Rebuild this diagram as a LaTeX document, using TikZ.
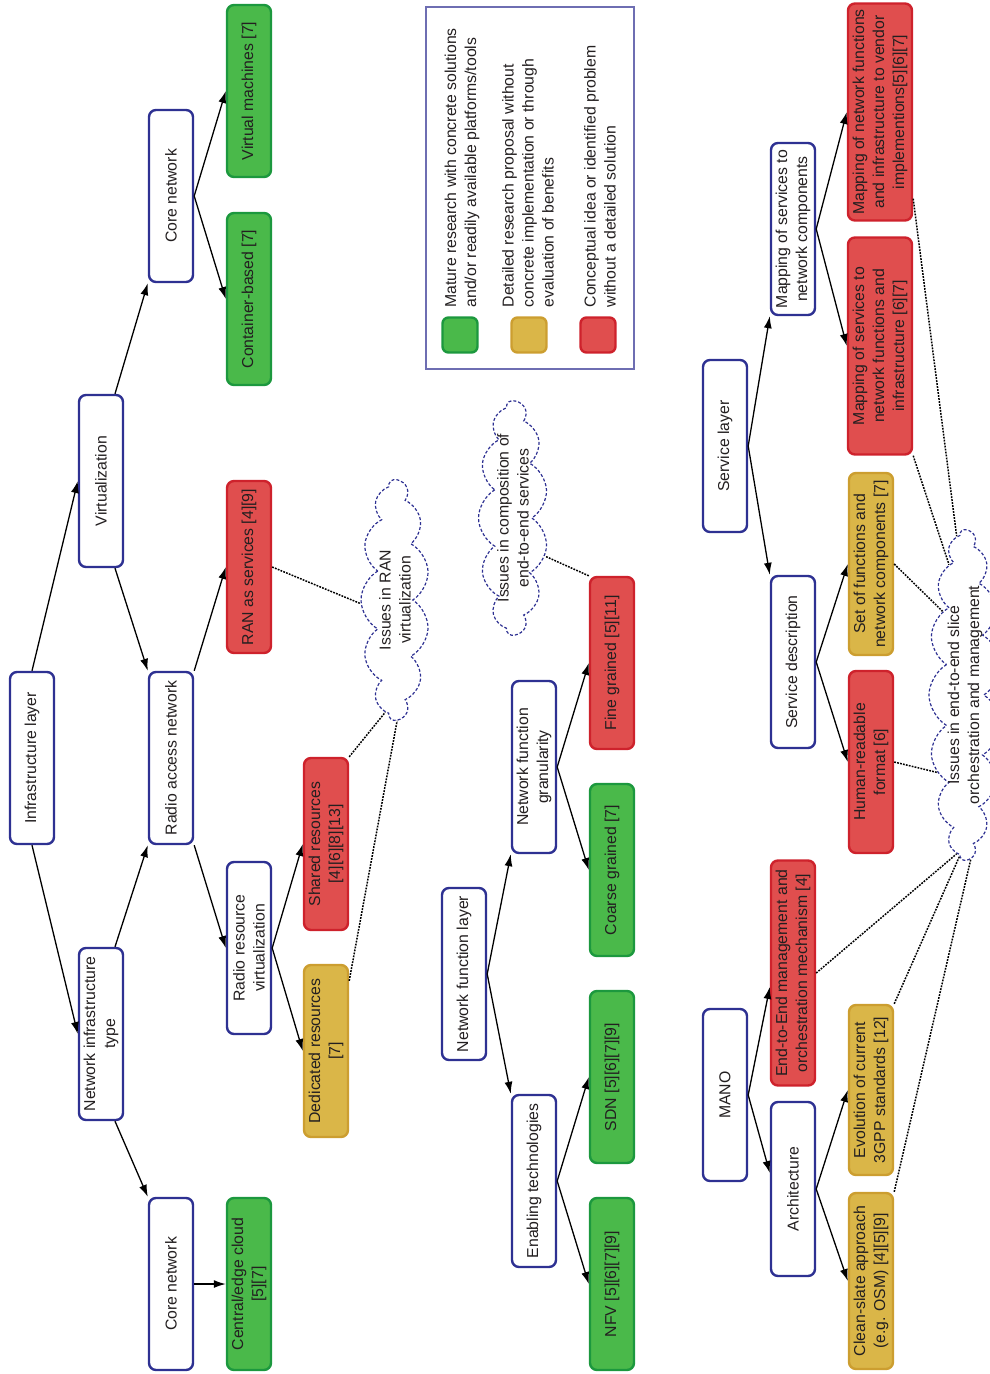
\documentclass[tikz,border=0pt]{standalone}
\usepackage{fontspec}
\setmainfont{Liberation Sans}
\usetikzlibrary{arrows.meta, shapes.symbols}

\definecolor{navy}{RGB}{46,49,146}
\definecolor{ink}{RGB}{35,31,32}
\definecolor{gfill}{RGB}{74,185,74}
\definecolor{gdraw}{RGB}{28,152,62}
\definecolor{yfill}{RGB}{218,182,72}
\definecolor{ydraw}{RGB}{204,158,48}
\definecolor{rfill}{RGB}{224,78,78}
\definecolor{rdraw}{RGB}{206,34,44}
\definecolor{lgframe}{RGB}{110,110,178}

\begin{document}
\begin{tikzpicture}[
    x=1pt, y=-1pt,
    >={Latex[length=12pt,width=8pt]},
    line width=1.3pt,
    every node/.style={font=\fontsize{15.8}{20}\selectfont, text=ink},
    ]

    \tikzstyle{box}=[
    rectangle,
    rounded corners=7pt,
    rotate=90,
    align=center,
    inner sep=2pt,
    line width=2.4pt,
    minimum width=172pt,
    minimum height=44pt,
    ]
    \tikzstyle{topic}=[box, draw=navy, fill=white]
    \tikzstyle{mature}=[box, draw=gdraw, fill=gfill]
    \tikzstyle{detailed}=[box, draw=ydraw, fill=yfill]
    \tikzstyle{concept}=[box, draw=rdraw, fill=rfill]
    \tikzstyle{swatch}=[minimum width=35pt, minimum height=35pt, rounded corners=6pt]
    \tikzstyle{issue}=[
    cloud,
    cloud puffs=13,
    cloud puff arc=120,
    cloud ignores aspect,
    draw=navy,
    densely dashed,
    line width=1.2pt,
    rotate=90,
    inner sep=0pt,
    ]
    \tikzstyle{issuetext}=[rotate=90, align=center, inner sep=0pt]
    \tikzstyle{link}=[dash pattern=on 1.8pt off 1.2pt, line width=1.5pt]

    \useasboundingbox (0,0) rectangle (990,1374);

    % infrastructure layer
    \node[topic] (il) at (32,758) {Infrastructure layer};
    \node[topic] (nit) at (101,1034) {Network infrastructure\\type};
    \node[topic] (virt) at (101,481) {Virtualization};
    \node[topic] (core1) at (171,196) {Core network};
    \node[topic] (ran) at (171,758) {Radio access network};
    \node[topic] (core2) at (171,1284) {Core network};
    \node[topic] (rrv) at (249,948) {Radio resource\\virtualization};
    \node[mature] (vm) at (249,91) {Virtual machines [7]};
    \node[mature] (cont) at (249,299) {Container-based [7]};
    \node[concept] (raas) at (249,567) {RAN as services [4][9]};
    \node[mature] (cloud) at (249,1284) {Central/edge cloud\\{[5][7]}};
    \node[concept] (shared) at (326,844) {Shared resources\\{[4][6][8][13]}};
    \node[detailed] (ded) at (326,1051) {Dedicated resources\\{[7]}};
    \node[issue, minimum width=240pt, minimum height=68pt,
          label={[issuetext]center:Issues in RAN\\virtualization}] (i1) at (395,600) {};

    % network function layer
    \node[topic] (nfl) at (464,974) {Network function layer};
    \node[topic] (nfg) at (534,767) {Network function\\granularity};
    \node[topic] (et) at (534,1181) {Enabling technologies};
    \node[issue, minimum width=234pt, minimum height=69pt,
          label={[issuetext]center:Issues in composition of\\end-to-end services}] (i2) at (513,518) {};
    \node[concept] (fine) at (612,663) {Fine grained [5][11]};
    \node[mature] (coarse) at (612,870) {Coarse grained [7]};
    \node[mature] (sdn) at (612,1077) {SDN [5][6][7][9]};
    \node[mature] (nfv) at (612,1284) {NFV [5][6][7][9]};

    % legend
    \draw[lgframe, line width=1.3pt] (426,7) rectangle (634,369);
    \node[mature, swatch] (lg1) at (460,335) {};
    \node[detailed, swatch] (lg2) at (529,335) {};
    \node[concept, swatch] (lg3) at (598,335) {};
    \node[rotate=90, anchor=west, align=left, inner sep=0pt] (lt1) at (462,308) {Mature research with concrete solutions\\and/or readily available platforms/tools};
    \node[rotate=90, anchor=west, align=left, inner sep=0pt] (lt2) at (528,308) {Detailed research proposal without\\concrete implementation or through\\evaluation of benefits};
    \node[rotate=90, anchor=west, align=left, inner sep=0pt] (lt3) at (600,308) {Conceptual idea or identified problem\\without a detailed solution};

    % service layer and MANO
    \node[topic] (sl) at (725,446) {Service layer};
    \node[topic] (mano) at (725,1095) {MANO};
    \node[topic] (msnc) at (793,229) {Mapping of services to\\network components};
    \node[topic] (sd) at (793,662) {Service description};
    \node[concept, minimum width=225pt] (e2e) at (793,973) {End-to-End management and\\orchestration mechanism [4]};
    \node[topic, minimum width=174pt] (arch) at (793,1189) {Architecture};
    \node[concept, minimum width=217pt, minimum height=64pt] (mapnf) at (880,112) {Mapping of network functions\\and infrastructure to vendor\\implementions[5][6][7]};
    \node[concept, minimum width=217pt, minimum height=64pt] (mapsvc) at (880,346) {Mapping of services to\\network functions and\\infrastructure [6][7]};
    \node[detailed, minimum width=182pt] (setf) at (871,564) {Set of functions and\\network components [7]};
    \node[concept, minimum width=182pt] (human) at (871,762) {Human-readable\\format [6]};
    \node[detailed, minimum width=170pt] (evol) at (871,1090) {Evolution of current\\3GPP standards [12]};
    \node[detailed, minimum width=176pt] (clean) at (871,1281) {Clean-slate approach\\(e.g. OSM) [4][5][9]};
    \node[issue, cloud puffs=17, minimum width=330pt, minimum height=72pt,
          label={[issuetext]center:Issues in end-to-end slice\\orchestration and management}] (i3) at (965,695) {};

    \path[->] (il.east) edge (virt.north)
              (il.west) edge (nit.north)
              ([xshift=14pt]virt.east) edge (core1.north west)
              ([xshift=14pt]virt.west) edge (ran.north east)
              ([xshift=14pt]nit.east) edge (ran.north west)
              ([xshift=14pt]nit.west) edge (core2.north east)
              (core2.south) edge (cloud.north)
              (core1.south) edge (vm.north)
              (core1.south) edge (cont.north)
              (ran.south east) edge (raas.north)
              (ran.south west) edge (rrv.north)
              (rrv.south) edge (shared.north)
              (rrv.south) edge (ded.north);

    \path[->] (nfl.south) edge (nfg.north west)
              (nfl.south) edge (et.north east)
              (nfg.south) edge (fine.north)
              (nfg.south) edge (coarse.north)
              (et.south) edge (sdn.north)
              (et.south) edge (nfv.north);

    \path[->] (sl.south) edge (msnc.north west)
              (sl.south) edge (sd.north east)
              (msnc.south) edge (mapnf.north)
              (msnc.south) edge (mapsvc.north)
              (sd.south) edge (setf.north)
              (sd.south) edge (human.north)
              (mano.south) edge ([yshift=-14pt]e2e.north)
              (mano.south) edge ([yshift=16pt]arch.north)
              (arch.south) edge (evol.north)
              (arch.south) edge (clean.north);

    \draw[link] (raas.south) -- (i1.96);
    \draw[link] (shared.south east) -- (i1.175);
    \draw[link] ([yshift=-17pt]ded.south east) -- (i1.181);
    \draw[link] (fine.north east) -- (i2.220);
    \draw[link] ([yshift=23pt]mapnf.south west) -- (i3.3);
    \draw[link] (mapsvc.south west) -- (i3.7);
    \draw[link] (setf.south) -- (i3.15);
    \draw[link] (human.south) -- (i3.160);
    \draw[link] (e2e.south) -- (i3.177);
    \draw[link] (evol.south east) -- (i3.178.5);
    \draw[link] (clean.south east) -- (i3.182.6);
\end{tikzpicture}
\end{document}
